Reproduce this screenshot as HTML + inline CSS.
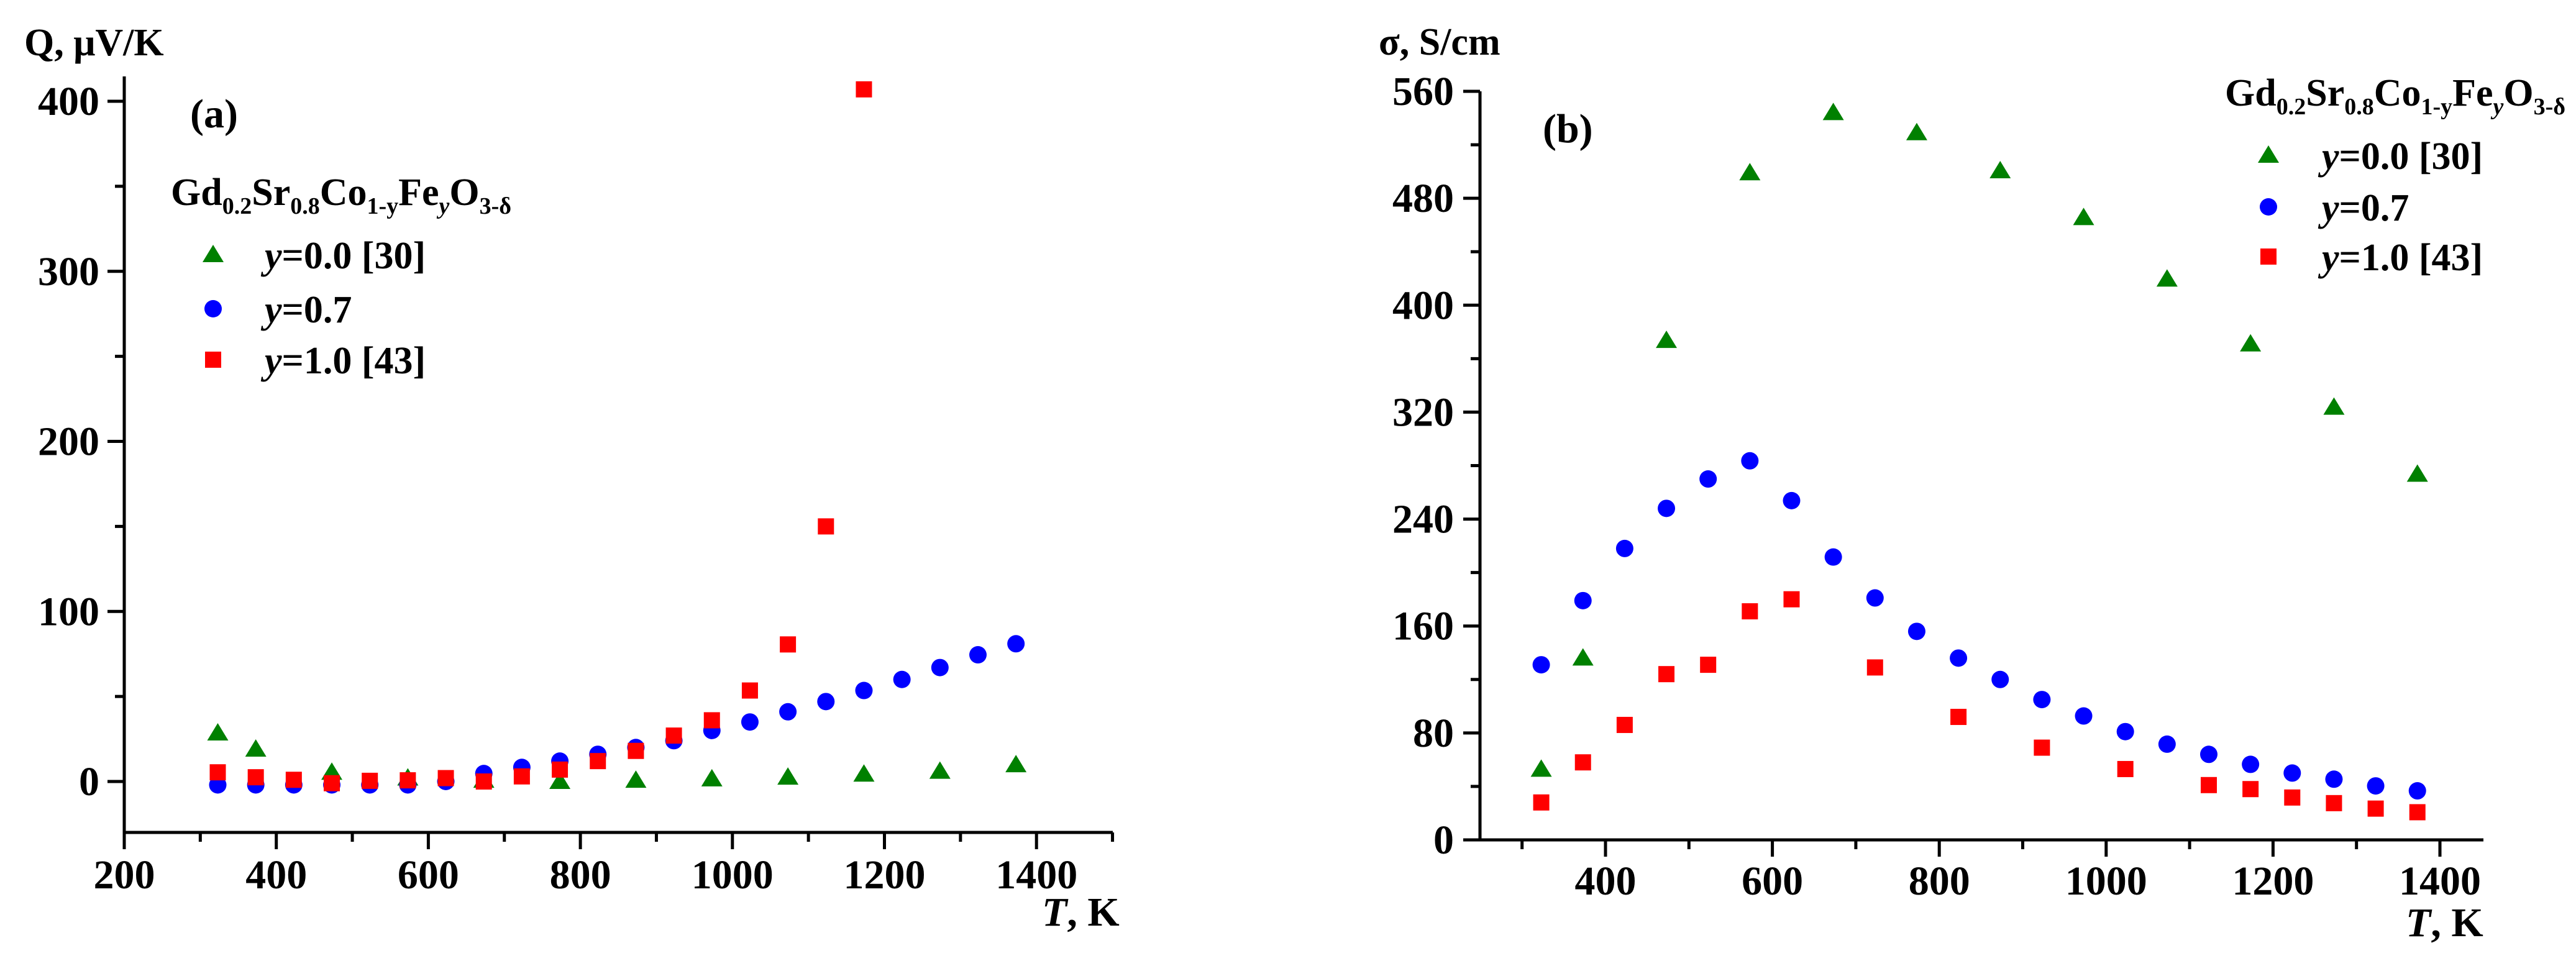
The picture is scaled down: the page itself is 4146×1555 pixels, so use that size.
<!DOCTYPE html>
<html><head><meta charset="utf-8"><style>
html,body{margin:0;padding:0;background:#fff}
svg, svg text, svg tspan{font-family:"Liberation Serif","Times New Roman","Noto Serif CJK SC","DejaVu Serif",serif;font-weight:bold}
</style></head><body>
<svg id="chart" width="4146" height="1550" viewBox="0 0 4146 1550" xmlns="http://www.w3.org/2000/svg">
<rect width="4146" height="1550" fill="#fff"/>
<g id="pa"></g>
<g id="pb"></g>
</svg>
<script>
// Panel (a) data
const tempsA = [323,373,423,473,523,573,623,673,723,773,823,873,923,973,1023,1073,1123,1173,1223,1273,1323,1373];
const qY00T = [323,373,473,573,673,773,873,973,1073,1173,1273,1373];
const qY00 = [28.5,19,5.4,2,0.7,0,0.7,1.5,2.5,4.3,6,9.8];
const qY07 = [-2,-2,-2,-2,-2,-2,0,4.7,8.3,12,16,20,24,30,35,41,47,53.5,60,67,74.5,81];
const qY10T = [323,373,423,473,523,573,623,673,723,773,823,873,923,973,1023,1073,1123,1173];
const qY10 = [5.4,2.5,1,-1,0.4,0.7,2,0,3,7,12,18,27,36,53.5,80.6,150,407];
const ticksAX = [200,400,600,800,1000,1200,1400];
const ticksAY = [0,100,200,300,400];
// Panel (b) data
const tempsB = [323,373,423,473,523,573,623,673,723,773,823,873,923,973,1023,1073,1123,1173,1223,1273,1323,1373];
const sY00T = [323,373,473,573,673,773,873,973,1073,1173,1273,1373];
const sY00 = [52.8,136,373.6,499,544,529,500.5,465.5,419.5,371,323.6,273.5];
const sY07 = [131,179,218,248,270,283.6,253.8,211.6,181,156,136,120,105,92.7,81,71.6,64,56.5,50,45.4,40.4,36.7];
const sY10T = [323,373,423,473,523,573,623,723,823,923,1023,1123,1173,1223,1273,1323,1373];
const sY10 = [28,58,86,124,131,171,180,129,92,69,53,41,38,31.7,27.5,23.4,20.7];
const ticksBX = [400,600,800,1000,1200,1400];
const ticksBY = [0,80,160,240,320,400,480,560];

const NS="http://www.w3.org/2000/svg";
const FF='"Liberation Serif","Times New Roman","Noto Serif CJK SC","DejaVu Serif",serif';
function mk(parent,tag,attrs,text){const e=document.createElementNS(NS,tag);for(const k in attrs)e.setAttribute(k,attrs[k]);if(tag==='text'){e.style.fontFamily=FF;e.style.fontWeight='bold';}if(text!==undefined)e.textContent=text;parent.appendChild(e);return e;}

function marker(g,type,cx,cy){
  let e;
  if(type==='tri'){e=mk(g,'polygon',{points:`${cx},${cy-16} ${cx-17},${cy+12} ${cx+17},${cy+12}`,fill:'#008000'});}
  else if(type==='cir'){e=mk(g,'circle',{cx:cx,cy:cy,r:14,fill:'#0000ff'});}
  else {e=mk(g,'rect',{x:cx-13,y:cy-13,width:26,height:26,fill:'#ff0000'});}
  return e;
}

function panel(g,cfg){
  const sx=v=>cfg.x0+(v-cfg.xv0)*cfg.kx;
  const sy=v=>cfg.y0-(v-cfg.yv0)*cfg.ky;
  const ax=mk(g,'g',{});
  
  
  mk(ax,'path',{d:`M${cfg.axL},${cfg.axTop} V${cfg.axBot} H${cfg.axR}`,stroke:'#000','stroke-width':5,fill:'none'});
  for(let v=cfg.xMinorStart; v<=cfg.xMax; v+=cfg.xStep/2){
    const major=cfg.xt.includes(v);
    mk(ax,'line',{x1:sx(v),x2:sx(v),y1:cfg.axBot,y2:cfg.axBot+(major?27:15),stroke:'#000','stroke-width':5});
  }
  cfg.xt.forEach(v=>{
    const t=mk(ax,'text',{x:sx(v),y:cfg.xLabY,'text-anchor':'middle','font-size':66},String(v));
    
    
  });
  for(let v=cfg.yMinorStart; v<=cfg.yMax; v+=cfg.yStep/2){
    const major=cfg.yt.includes(v);
    mk(ax,'line',{x1:cfg.axL,x2:cfg.axL-(major?27:15),y1:sy(v),y2:sy(v),stroke:'#000','stroke-width':5});
  }
  cfg.yt.forEach(v=>{
    const t=mk(ax,'text',{x:cfg.yLabX,y:sy(v)+22,'text-anchor':'end','font-size':66},String(v));
    
    
  });
  const xt=mk(ax,'text',{x:cfg.xTitleX,y:cfg.xTitleY,'font-size':66});
  
  
  mk(xt,'tspan',{'font-style':'italic'},'T');
  mk(xt,'tspan',{},', K');
  const yt=mk(ax,'text',{x:cfg.yTitleX,y:cfg.yTitleY,'font-size':62},cfg.yTitle);
  
  
  const pl=mk(ax,'text',{x:cfg.plX,y:cfg.plY,'font-size':66},cfg.plText);
  
  
  cfg.series.forEach(s=>{
    const sg=mk(g,'g',{});
    
    
    s.xs.forEach((xv,i)=>{
      const m=marker(sg,s.type,sx(xv),sy(s.ys[i]));
      
      
    });
  });
  const lg=mk(g,'g',{});
  
  
  const tt=mk(lg,'text',{x:cfg.lgX,y:cfg.lgY,'font-size':62});
  
  
  const parts=[['Gd',0],['0.2',1],['Sr',0],['0.8',1],['Co',0],['1-y',1],['Fe',0],['y',1],['O',0],['3-δ',1]];
  parts.forEach(p=>{mk(tt,'tspan',p[1]?{'font-size':38,dy:14,'font-style':(p[0]==='y')?'italic':'normal'}:{'font-size':62,dy:p[0]==='Gd'?0:-14},p[0]);});
  const labels=[['y','=0.0 [30]','tri'],['y','=0.7','cir'],['y','=1.0 [43]','sq']];
  labels.forEach((l,i)=>{
    const y=cfg.lgEntY[i];
    const m=marker(lg,l[2],cfg.lgMX,y);
    
    
    const t=mk(lg,'text',{x:cfg.lgTX,y:y+22,'font-size':62});
    
    
    mk(t,'tspan',{'font-style':'italic'},l[0]);
    mk(t,'tspan',{},l[1]);
  });
}

panel(document.getElementById('pa'),{
  x0:200,xv0:200,kx:244.7/200, y0:1258,yv0:0,ky:273.75/100,
  axL:200,axTop:123,axBot:1340,axR:1791,
  xMinorStart:200,xMax:1500,xStep:200,xt:ticksAX,
  yMinorStart:0,yMax:400,yStep:100,yt:ticksAY,
  xLabY:1430,yLabX:160,xTitleX:1677,xTitleY:1490,
  yTitle:'Q, μV/K',yTitleX:39,yTitleY:89,plText:'(a)',plX:306,plY:205,
  lgX:275,lgY:330,lgMX:343,lgTX:426,lgEntY:[410,497,579],
  series:[{name:'series-y0.0',type:'tri',xs:qY00T,ys:qY00},{name:'series-y0.7',type:'cir',xs:tempsA,ys:qY07},{name:'series-y1.0',type:'sq',xs:qY10T,ys:qY10}]
});
panel(document.getElementById('pb'),{
  x0:2584,xv0:400,kx:1343/1000, y0:1352,yv0:0,ky:(1352-147)/560,
  axL:2382,axTop:147,axBot:1352,axR:3997,
  xMinorStart:300,xMax:1452,xStep:200,xt:ticksBX,
  yMinorStart:0,yMax:560,yStep:80,yt:ticksBY,
  xLabY:1440,yLabX:2340,xTitleX:3872,xTitleY:1507,
  yTitle:'σ, S/cm',yTitleX:2219,yTitleY:88,plText:'(b)',plX:2483,plY:229,
  lgX:3581,lgY:170,lgMX:3651,lgTX:3737,lgEntY:[250,333,413],
  series:[{name:'series-y0.0',type:'tri',xs:sY00T,ys:sY00},{name:'series-y0.7',type:'cir',xs:tempsB,ys:sY07},{name:'series-y1.0',type:'sq',xs:sY10T,ys:sY10}]
});
</script>
</body></html>
